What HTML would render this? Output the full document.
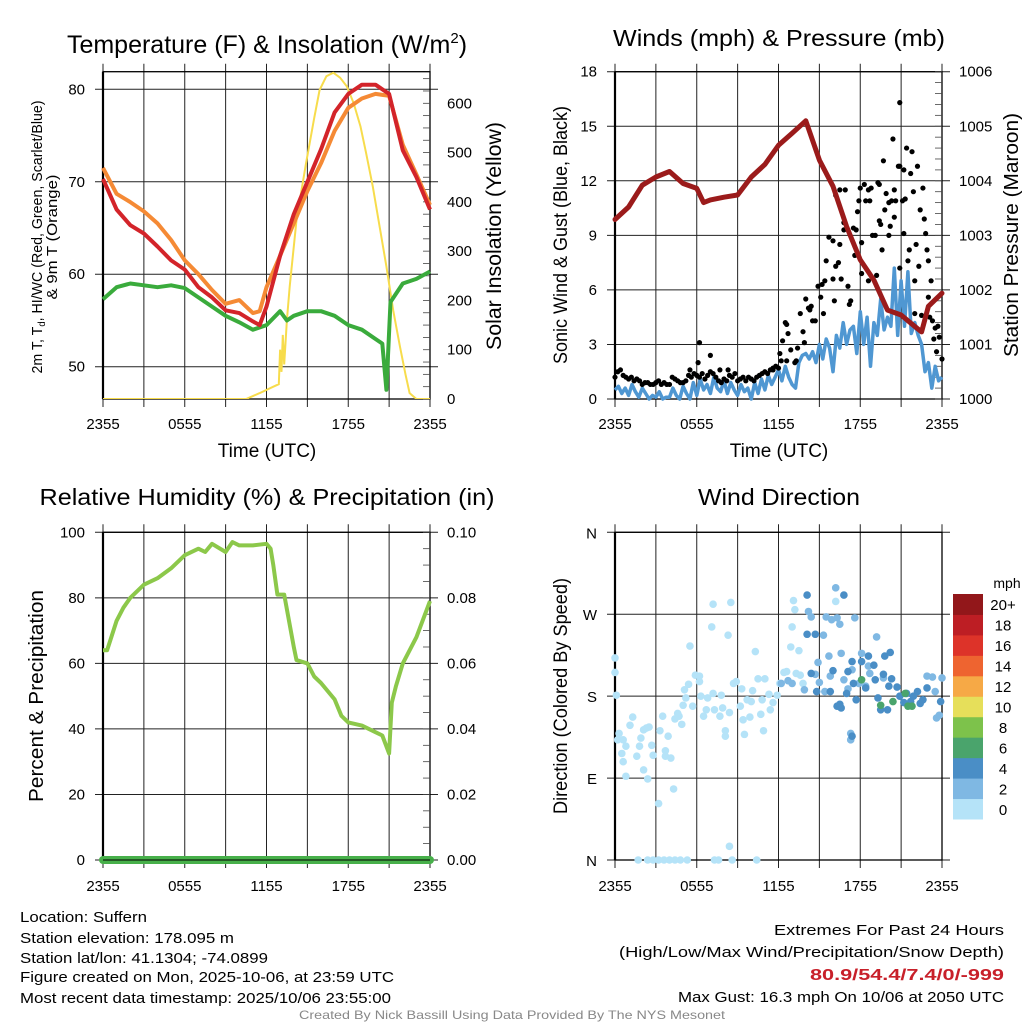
<!DOCTYPE html>
<html><head><meta charset="utf-8"><style>
html,body{margin:0;padding:0;background:#fff;}
svg{display:block;font-family:"Liberation Sans",Arial,sans-serif;}
</style></head><body>
<svg id="c" width="1024" height="1024" viewBox="0 0 1024 1024" xmlns="http://www.w3.org/2000/svg">
<rect width="1024" height="1024" fill="#fff"/>
<g id="p1"></g>
<g id="p2"></g>
<g id="p3"></g>
<g id="p4"></g>
<g font-size="15" fill="#000">
<text x="20" y="922" textLength="127" lengthAdjust="spacingAndGlyphs">Location: Suffern</text>
<text x="20" y="943" textLength="214" lengthAdjust="spacingAndGlyphs">Station elevation: 178.095 m</text>
<text x="20" y="963" textLength="248" lengthAdjust="spacingAndGlyphs">Station lat/lon: 41.1304; -74.0899</text>
<text x="20" y="982" textLength="374" lengthAdjust="spacingAndGlyphs">Figure created on Mon, 2025-10-06, at 23:59 UTC</text>
<text x="20" y="1003" textLength="371" lengthAdjust="spacingAndGlyphs">Most recent data timestamp: 2025/10/06 23:55:00</text>
<text x="1004" y="935" text-anchor="end" textLength="230" lengthAdjust="spacingAndGlyphs">Extremes For Past 24 Hours</text>
<text x="1004" y="957" text-anchor="end" textLength="385" lengthAdjust="spacingAndGlyphs">(High/Low/Max Wind/Precipitation/Snow Depth)</text>
<text x="1004" y="980" text-anchor="end" fill="#c8202a" font-weight="bold" font-size="16" textLength="194" lengthAdjust="spacingAndGlyphs">80.9/54.4/7.4/0/-999</text>
<text x="1004" y="1002" text-anchor="end" textLength="326" lengthAdjust="spacingAndGlyphs">Max Gust: 16.3 mph On 10/06 at 2050 UTC</text>
<text x="512" y="1019" text-anchor="middle" font-size="12" fill="#888" textLength="426" lengthAdjust="spacingAndGlyphs">Created By Nick Bassill Using Data Provided By The NYS Mesonet</text>
</g>
</svg>
<script>
// ---------- DATA ----------
const timeTicks = ["2355","0555","1155","1755","2355"];
const tempTicks = [50,60,70,80];
const solarTicks = [0,100,200,300,400,500,600];
const windTicks = [0,3,6,9,12,15,18];
const presTicks = [1000,1001,1002,1003,1004,1005,1006];
const rhTicks = [0,20,40,60,80,100];
const precipTicks = ["0.00","0.02","0.04","0.06","0.08","0.10"];
const dirTicks = ["N","E","S","W","N"];

const tHours = [0,1,2,3,4,5,6,7,8,9,10,11,11.5,12,13,14,15,16,17,18,19,20,21,22,23,24];
const tempRed = [70.3,67,65.3,64.4,63,61.5,60.5,58.6,57.5,56.1,55.8,54.9,54.5,56.5,62,66.5,70,73.5,77.5,79.5,80.5,80.5,79.5,73.4,70.5,67];
const tempOrange = [71.5,68.7,67.8,66.8,65.5,63.7,61.5,60,58.3,56.8,57.2,55.8,56,58.6,62,65.5,69,72,75.5,78,79,79.5,79.3,74,70.8,67.5];
const dewHours = [0,1,2,3,4,5,6,7,8,9,10,11,12,13,13.5,14,15,16,17,18,19,20,20.5,20.8,21.1,22,23,24];
const dewGreen = [57.3,58.6,59,58.8,58.6,58.8,58.5,57.5,56.5,55.5,54.8,54,54.5,56,55,55.5,56,56,55.5,54.5,54,53,52.5,47.5,57,59,59.5,60.3];
const solarHours = [0,10.5,11.5,12.5,12.9,13.0,13.1,13.2,13.3,13.5,13.7,14.2,14.9,15.5,15.9,16.4,16.9,17.4,17.9,18.4,18.9,19.3,19.8,20.3,20.8,21.3,21.8,22.2,22.5,23,24];
const solarVals = [0,0,12,25,30,100,55,130,70,160,228,363,478,570,627,655,662,652,634,600,553,500,431,350,269,180,106,50,12,0,0];

const presHours = [0,1,2,3,4,5,6,6.5,7,8,9,10,11,12,13,14,15,16,17,18,19,20,21,22,22.5,23,24];
const presVals = [1003.29,1003.52,1003.92,1004.07,1004.17,1003.95,1003.86,1003.6,1003.65,1003.7,1003.74,1004.07,1004.3,1004.65,1004.87,1005.1,1004.38,1003.9,1003.16,1002.55,1002.18,1001.63,1001.54,1001.33,1001.23,1001.7,1001.94];
const sonicWind = [0.5,0.7,0.3,0.6,0.2,0.8,0.4,0.1,0.6,0.3,0.0,0.2,0.1,0.4,0.0,0.1,
0.1,0.6,0.2,0.0,0.7,0.3,0.0,0.9,
0.2,1.1,0.5,0.8,0.3,1.2,0.6,0.4,
1.0,0.3,0.9,0.5,0.2,0.8,0.4,0.6,
0.0,0.9,0.3,1.1,0.5,1.3,0.8,1.2,
1.6,1.0,1.8,1.2,0.8,0.6,2.0,2.4,
2.5,2.2,2.6,2.0,3.0,2.2,3.3,2.8,
1.5,3.5,2.8,4.2,3.0,3.8,4.0,2.5,
4.8,3.0,4.5,1.8,4.2,3.5,5.5,3.8,
4.5,4.0,7.2,3.5,6.5,4.0,7.0,3.6,
4.2,3.5,3.0,1.5,2.0,0.6,1.8,1.0,1.2];
const gustBase = [1.2,1.5,1.6,1.3,1.2,1.1,1.2,1.0,1.1,1.0,0.8,0.9,0.9,0.8,0.8,0.9,1.0,0.8,0.9,0.8,
0.8,1.2,1.1,1.0,0.9,0.9,1.0,1.3,1.2,1.4,1.3,1.2,1.4,1.1,1.3,1.5,1.4,1.2,1.0,0.9,
1.1,1.0,1.3,1.2,1.4,1.0,1.1,1.2,1.0,1.2,1.1,1.0,1.2,1.3,1.4,1.5,1.4,1.6,1.7,1.8];
const gustHours = [6.2,6.1,7.0,5.5,8.3,7.7,11.6,12.0,12.1,12.2,12.3,12.5,12.6,12.7,12.9,12.6,13.2,13.3,13.4,13.6,13.8,13.9,14.0,14.2,14.3,14.4,14.5,14.7,14.9,15.1,15.2,15.4,15.3,15.5,15.7,16.0,16.0,16.1,16.2,16.4,16.5,16.6,16.2,16.5,16.8,16.8,16.9,17.1,17.2,17.3,17.5,17.6,17.7,17.8,17.9,18.0,18.1,18.3,18.4,18.6,18.7,18.8,18.1,18.6,18.9,19.1,19.2,19.3,19.4,19.4,19.5,19.6,19.7,19.8,19.9,20.1,20.1,20.2,20.3,20.4,20.5,20.5,20.6,20.8,20.9,20.9,20.9,21.1,21.2,21.2,21.3,21.4,21.5,21.6,21.7,21.8,21.9,22.0,22.1,22.2,22.3,22.4,22.5,22.6,22.7,22.8,22.9,23.0,23.0,23.1,23.2,23.3,23.4,23.5,23.6,23.7,23.8,24.0,22.0];
const gustVals = [3.1,2.0,2.4,1.6,1.6,1.6,1.6,1.7,2.5,2.1,3.2,4.2,4.1,3.6,2.7,2.1,2.0,2.1,2.8,4.7,3.7,3.1,5.5,5.0,4.9,5.1,4.3,4.3,6.2,5.6,6.3,6.5,4.7,7.6,8.9,8.7,6.6,5.4,7.3,7.5,8.5,6.6,11.2,11.5,9.3,9.7,11.5,6.2,5.2,5.4,9.4,7.9,9.3,10.3,10.9,11.6,8.6,11.8,10.9,11.5,10.9,11.6,6.9,6.5,9.0,9.0,6.8,11.9,11.8,9.8,9.6,8.2,13.1,10.4,11.3,10.8,9.0,9.5,10.9,14.3,11.5,10.0,10.9,12.8,16.3,12.8,7.2,10.9,9.1,12.6,11.0,13.8,7.6,8.2,12.4,13.6,11.4,6.5,8.5,12.8,7.3,10.4,4.6,11.6,9.9,9.1,8.2,7.6,5.6,4.5,6.5,4.3,3.3,3.9,2.6,4.0,3.4,2.2,4.7];

const rhHours = [0,0.3,1,1.5,2,3,4,5,6,7,7.5,8,9,9.5,10,11,12,12.3,12.5,12.8,13.3,14,14.2,15,15.5,16,17,17.5,18,19,20,20.5,21,21.2,21.5,22,23,24];
const rhVals = [64,64,73,77,80,84,86,89,93,95,94,96.5,94,97,96,96,96.5,95,90,81,81,65,61,60,56,54,49,44,42,41,39,38,32.5,48,53,60,68,79];
const precipVals = [0,0];

// wind direction: hour, degrees (N=0/360, E=90, S=180, W=270), speed bin
const dirHoursCalm = [0,0,0.1,0.3,0.2,0.6,0.8,1.1,1.3,0.5,0.6,0.8,1.6,1.8,1.9,2.1,2.3,2.5,2.1,2.4,2.7,2.8,3.2,3.3,3.5,3.7,3.9,3.7,4.1,4.3,4.4,4.6,4.7,4.9,5.0,5.1,5.2,5.5,5.4,5.7,5.9,6.2,6.2,6.3,6.5,6.7,6.8,7.1,7.2,7.2,7.3,7.7,7.8,7.9,8.1,8.1,8.3,8.4,8.5,8.7,8.9,9.2,9.3,9.4,9.5,9.7,9.9,10.0,10.1,10.3,10.5,10.7,10.8,10.9,11.0,11.3,11.4,11.6,11.9,12.1,12.4,12.6,12.9,13.0,13.1,13.2,13.3,13.5,13.6,13.8,16.2,1.7,2.4,2.8,3.2,3.6,4.0,4.4,4.8,5.3,7.3,7.6,8.6,10.4,8.4];
const dirDegCalm = [222,206,181,139,132,132,125,148,157,117,108,92,114,125,134,143,145,146,99,89,126,115,62,142,158,120,136,114,112,78,155,161,158,149,170,187,178,235,193,169,203,202,196,180,158,165,178,256,281,183,165,158,181,167,142,136,247,162,283,194,196,169,188,154,138,176,157,174,186,229,199,160,176,142,199,182,165,173,181,194,206,207,234,256,285,275,205,230,203,194,284,0,0,0,0,0,0,0,0,0,0,0,0,0,15];
const dirHours2 = [12.2,12.7,13.0,13.9,14.2,14.4,14.7,14.9,15.0,15.3,15.4,15.5,15.7,15.8,15.9,16.2,16.3,16.5,16.6,16.8,17.1,17.4,17.6,17.9,18.1,18.4,18.6,18.7,19.2,19.7,22.9,23.3,23.6,23.8,24.0,23.5,17.3,17.3];
const dirDeg2 = [194,197,194,187,273,267,204,217,195,247,185,267,224,202,264,299,266,259,227,198,188,209,266,194,227,191,213,205,245,200,202,201,156,159,200,185,139,132];
const dirHours4 = [14.1,14.1,14.7,14.4,14.8,15.8,16.0,16.3,16.5,16.6,16.8,17.0,17.1,17.4,17.5,17.7,18.1,18.4,18.6,19.0,19.1,19.3,19.5,19.7,20.0,19.8,20.1,20.2,20.3,20.7,20.9,21.2,21.4,21.7,21.9,22.2,22.4,22.6,22.9,23.9,17.4];
const dirDeg4 = [291,248,248,205,185,185,208,169,171,167,291,183,207,218,194,176,218,189,224,214,198,178,165,204,165,224,191,228,199,190,180,173,183,174,180,185,172,176,189,174,136];
const dirHours6 = [18.1,19.5,20.4,21.3,21.5,21.8];
const dirDeg6 = [198,170,174,183,169,169];
const speedLabels = ["0","2","4","6","8","10","12","14","16","18","20+"];
const speedColors = ["#b5e3f8","#7fb8e3","#4a8ec6","#4aa46c","#7dc24b","#e6df5a","#f6a946","#ee6430","#dd3329","#bd1e24","#92171a"];

// ---------- DRAWING ----------
const NS="http://www.w3.org/2000/svg";
function mk(parent,tag,attrs,txt){const e=document.createElementNS(NS,tag);for(const k in attrs)e.setAttribute(k,attrs[k]);if(txt!==undefined)e.textContent=txt;parent.appendChild(e);return e;}
function lin(d0,d1,r0,r1){return v=>r0+(v-d0)/(d1-d0)*(r1-r0);}
function pathD(xs,ys,fx,fy){return xs.map((h,i)=>(i?"L":"M")+fx(h).toFixed(1)+","+fy(ys[i]).toFixed(1)).join("");}

function frame(g,x0,x1,y0,y1,yTickPos,timeLabels,labelY){
  const fx=lin(0,24,x0,x1);
  for(let h=0;h<=24;h+=3){
    const l=mk(g,"line",{x1:fx(h),x2:fx(h),y1:y0-8,y2:y1+8,stroke:"#222","stroke-width":1});
    
    
  }
  yTickPos.forEach(y=>{
    const l=mk(g,"line",{x1:x0-8,x2:x1+8,y1:y,y2:y,stroke:"#222","stroke-width":1});
    
    
  });
  const r=mk(g,"rect",{x:x0,y:y0,width:x1-x0,height:y1-y0,fill:"none",stroke:"#000","stroke-width":1.3});
  
  
  mk(g,"line",{x1:x0,x2:x0,y1:y0,y2:y1,stroke:"#000","stroke-width":2.2});
  timeLabels.forEach((t,i)=>{
    const tx=mk(g,"text",{x:fx(i*6),y:labelY,"text-anchor":"middle","font-size":15},t);
    
    
  });
  return fx;
}
function yLabels(g,vals,fy,x,anchor,fmt){
  vals.forEach(v=>{
    const t=mk(g,"text",{x:x,y:fy(typeof v==="string"?parseFloat(v):v)+5,"text-anchor":anchor,"font-size":15},fmt?fmt(v):v);
    
    
  });
}
function minorTicks(g,x,y0,y1,step){for(let y=y1;y>=y0-0.1;y-=step){mk(g,"line",{x1:x-7,x2:x,y1:y,y2:y,stroke:"#444","stroke-width":0.8});}}
function title(g,txt,cx,y,len){const t=mk(g,"text",{x:cx,y:y,"text-anchor":"middle","font-size":23,textLength:len,lengthAdjust:"spacingAndGlyphs"},txt);return t;}
function vtitle(g,txt,cx,cy,size,len){const t=mk(g,"text",{x:0,y:0,transform:`translate(${cx},${cy}) rotate(-90)`,"text-anchor":"middle","font-size":size,textLength:len,lengthAdjust:"spacingAndGlyphs"},txt);return t;}

// Panel 1
(function(){
  const g=document.getElementById("p1");
  const x0=103,x1=430,y0=71.7,y1=399;
  const fy=lin(50,80,366.7,89.3);
  const fs=lin(0,600,399,103.3);
  const fx=frame(g,x0,x1,y0,y1,tempTicks.map(fy),timeTicks,429);
  minorTicks(g,x1,y0,y1,(fs(0)-fs(100))/4);
  const t=title(g,"",267,53,408);
  t.innerHTML='Temperature (F) &amp; Insolation (W/m<tspan font-size="15" dy="-10">2</tspan><tspan dy="10">)</tspan>';
  t.removeAttribute("textLength");
  t.setAttribute("font-size","25");
  yLabels(g,tempTicks,fy,85,"end");
  yLabels(g,solarTicks,fs,447,"start");
  const a=mk(g,"text",{x:267,y:457,"text-anchor":"middle","font-size":19},"Time (UTC)");
  const lt=mk(g,"text",{transform:"translate(42,237) rotate(-90)","text-anchor":"middle","font-size":15,textLength:273,lengthAdjust:"spacingAndGlyphs"});
  lt.innerHTML='2m T, T<tspan font-size="10" dy="3">d</tspan><tspan dy="-3">, HI/WC (Red, Green, Scarlet/Blue)</tspan>';
  
  const lt2=mk(g,"text",{transform:"translate(57,237) rotate(-90)","text-anchor":"middle","font-size":15,textLength:125,lengthAdjust:"spacingAndGlyphs"},"& 9m T (Orange)");
  
  vtitle(g,"Solar Insolation (Yellow)",501,236,21,228);
  const cl=mk(g,"clipPath",{id:"cp1"});mk(cl,"rect",{x:x0,y:y0,width:x1-x0,height:y1-y0});
  const s=mk(g,"path",{d:pathD(solarHours,solarVals,fx,fs),fill:"none",stroke:"#f7dc4c","stroke-width":2,"clip-path":"url(#cp1)"});
  
  const d=mk(g,"path",{d:pathD(dewHours,dewGreen,fx,fy),fill:"none",stroke:"#3aab3c","stroke-width":4,"stroke-linejoin":"round"});
  
  const o=mk(g,"path",{d:pathD(tHours,tempOrange,fx,fy),fill:"none",stroke:"#f58a35","stroke-width":4,"stroke-linejoin":"round"});
  
  const r=mk(g,"path",{d:pathD(tHours,tempRed,fx,fy),fill:"none",stroke:"#d3242a","stroke-width":4,"stroke-linejoin":"round"});
  
})();

// Panel 2
(function(){
  const g=document.getElementById("p2");
  const x0=615,x1=942,y0=71.7,y1=399;
  const fy=lin(0,18,399,71.7);
  const fp=lin(1000,1006,399,71.7);
  const fx=frame(g,x0,x1,y0,y1,windTicks.map(fy),timeTicks,429);
  minorTicks(g,x1,y0,y1,(fp(1000)-fp(1001))/5);
  title(g,"Winds (mph) & Pressure (mb)",779,46,332);
  yLabels(g,windTicks,fy,597,"end");
  yLabels(g,presTicks,fp,959,"start");
  const a=mk(g,"text",{x:779,y:457,"text-anchor":"middle","font-size":19},"Time (UTC)");
  vtitle(g,"Sonic Wind & Gust (Blue, Black)",567,235,19,258);
  vtitle(g,"Station Pressure (Maroon)",1018,235,20,244);
  const bh=sonicWind.map((v,i)=>i*0.25);
  const b=mk(g,"path",{d:pathD(bh,sonicWind,fx,fy),fill:"none",stroke:"#4f97d2","stroke-width":3.5,"stroke-linejoin":"round"});
  
  gustBase.forEach((v,i)=>{const c=mk(g,"circle",{cx:fx(i*0.2),cy:fy(v),r:2.6,fill:"#000"});});
  gustVals.forEach((v,i)=>{const c=mk(g,"circle",{cx:fx(gustHours[i]),cy:fy(v),r:2.6,fill:"#000"});});
  const p=mk(g,"path",{d:pathD(presHours,presVals,fx,fp),fill:"none",stroke:"#9b1b1b","stroke-width":5,"stroke-linejoin":"round","stroke-linecap":"round"});
  
})();

// Panel 3
(function(){
  const g=document.getElementById("p3");
  const x0=103,x1=430,y0=532.3,y1=860;
  const fy=lin(0,100,860,532.3);
  const fx=frame(g,x0,x1,y0,y1,rhTicks.map(fy),timeTicks,891);
  minorTicks(g,x1,y0,y1,(fy(0)-fy(20))/4);
  title(g,"Relative Humidity (%) & Precipitation (in)",267,505,455);
  yLabels(g,rhTicks,fy,85,"end");
  const fpr=lin(0,0.1,860,532.3);
  yLabels(g,precipTicks,fpr,447,"start");
  vtitle(g,"Percent & Precipitation",43,696,20,212);
  const pr=mk(g,"path",{d:pathD([0,24],precipVals,fx,fpr),fill:"none",stroke:"#47b04a","stroke-width":8,"stroke-linecap":"round"});
  
  mk(g,"line",{x1:x0,x2:x1,y1:y1,y2:y1,stroke:"#000","stroke-width":1});
  const rh=mk(g,"path",{d:pathD(rhHours,rhVals,fx,fy),fill:"none",stroke:"#8cc84a","stroke-width":4,"stroke-linejoin":"round"});
  
})();

// Panel 4
(function(){
  const g=document.getElementById("p4");
  const x0=615,x1=942,y0=532.3,y1=860;
  const fy=lin(0,360,860,532.3);
  const fx=frame(g,x0,x1,y0,y1,[0,90,180,270,360].map(fy),timeTicks,891);
  title(g,"Wind Direction",779,505,162);
  dirTicks.forEach((t,i)=>{const e=mk(g,"text",{x:597,y:fy(i*90)+6,"text-anchor":"end","font-size":15},t);});
  vtitle(g,"Direction (Colored By Speed)",567,696,19,236);
  function dots(hs,ds,col){hs.forEach((h,i)=>{const c=mk(g,"circle",{cx:fx(h),cy:fy(ds[i]),r:3.8,fill:col});});}
  dots(dirHoursCalm,dirDegCalm,speedColors[0]);
  dots(dirHours2,dirDeg2,speedColors[1]);
  dots(dirHours4,dirDeg4,speedColors[2]);
  dots(dirHours6,dirDeg6,speedColors[3]);
  // colorbar
  const top=594,bot=819,bh=(bot-top)/speedLabels.length;
  speedLabels.forEach((lab,i)=>{
    const y=bot-(i+1)*bh;
    const r=mk(g,"rect",{x:953,y:y,width:30,height:bh+0.5,fill:speedColors[i]});
    
    const t=mk(g,"text",{x:1003,y:y+bh/2+6,"text-anchor":"middle","font-size":15},lab);
    
  });
  const u=mk(g,"text",{x:1007,y:588,"text-anchor":"middle","font-size":14},"mph");
  
})();
</script>
</body></html>
